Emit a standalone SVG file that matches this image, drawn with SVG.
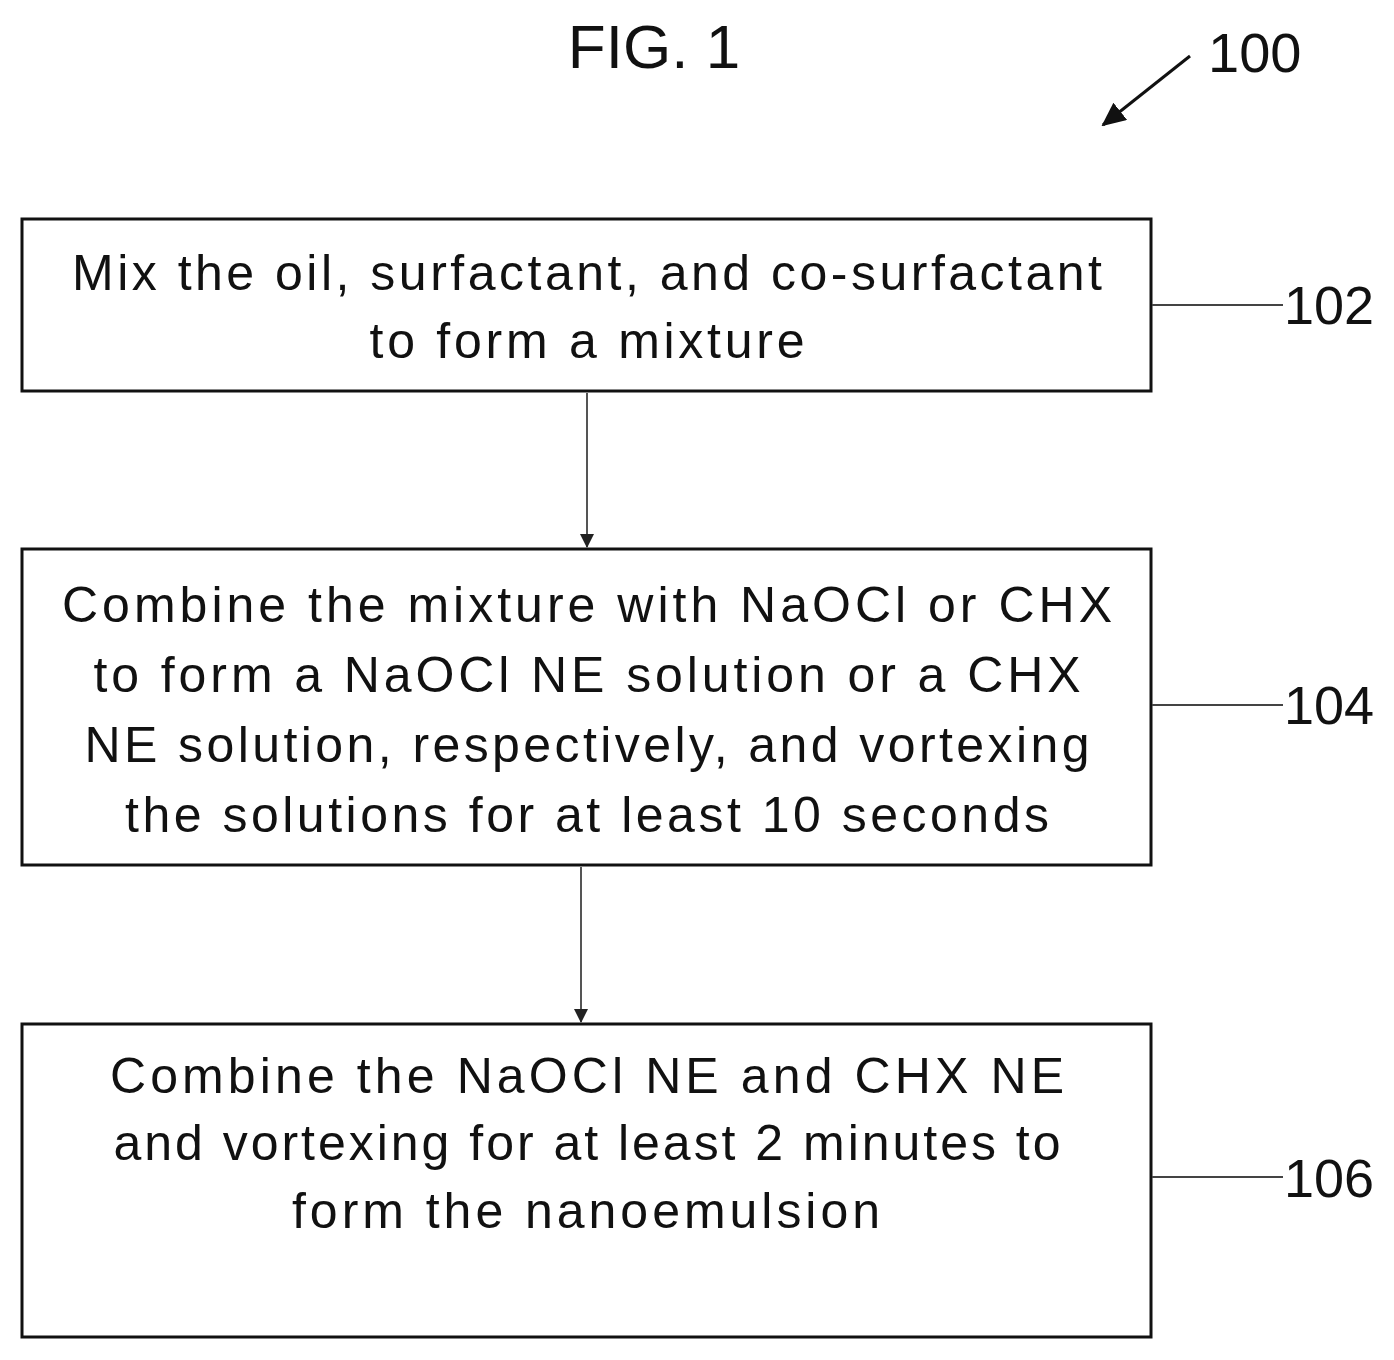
<svg xmlns="http://www.w3.org/2000/svg" width="1394" height="1360" viewBox="0 0 1394 1360">
<style>
.box{fill:#fff;stroke:#111;stroke-width:3}
.t{font-family:"Liberation Sans",Arial,sans-serif;font-size:50px;fill:#111;text-anchor:middle}
.lbl{font-family:"Liberation Sans",Arial,sans-serif;font-size:54px;fill:#111}
.ld{stroke:#444;stroke-width:2}
.c{stroke:#555;stroke-width:2;fill:none}
</style>
<defs>
<marker id="ah" markerWidth="14" markerHeight="14" refX="13" refY="7" orient="auto" markerUnits="userSpaceOnUse" viewBox="0 0 14 14">
<path d="M0,0 L14,7 L0,14 Z" fill="#222"/>
</marker>
<marker id="ah2" markerWidth="24" markerHeight="22" refX="22" refY="11" orient="auto" markerUnits="userSpaceOnUse" viewBox="0 0 24 22">
<path d="M0,0 L24,11 L0,22 Z" fill="#111"/>
</marker>
</defs>
<rect width="1394" height="1360" fill="#fff"/>
<text x="654" y="68" class="lbl" text-anchor="middle" style="font-size:62px">FIG. 1</text>
<text x="1208" y="72" class="lbl" style="font-size:56px">100</text>
<line x1="1190" y1="56" x2="1103" y2="125" stroke="#111" stroke-width="3" marker-end="url(#ah2)"/>
<g id="n102">
<rect class="box" x="22" y="219" width="1129" height="172"/>
<text class="t" x="587" y="290" textLength="1030" lengthAdjust="spacing">Mix the oil, surfactant, and co-surfactant</text>
<text class="t" x="587" y="358" textLength="435" lengthAdjust="spacing">to form a mixture</text>
<line class="ld" x1="1152" y1="305" x2="1283" y2="305"/>
<text class="lbl" x="1284" y="324">102</text>
</g>
<g id="n104">
<rect class="box" x="22" y="549" width="1129" height="316"/>
<text class="t" x="587" y="622" textLength="1050" lengthAdjust="spacing">Combine the mixture with NaOCl or CHX</text>
<text class="t" x="587" y="692" textLength="987" lengthAdjust="spacing">to form a NaOCl NE solution or a CHX</text>
<text class="t" x="587" y="762" textLength="1005" lengthAdjust="spacing">NE solution, respectively, and vortexing</text>
<text class="t" x="587" y="832" textLength="924" lengthAdjust="spacing">the solutions for at least 10 seconds</text>
<line class="ld" x1="1152" y1="705" x2="1283" y2="705"/>
<text class="lbl" x="1284" y="724">104</text>
</g>
<g id="n106">
<rect class="box" x="22" y="1024" width="1129" height="313"/>
<text class="t" x="587" y="1093" textLength="954" lengthAdjust="spacing">Combine the NaOCl NE and CHX NE</text>
<text class="t" x="587" y="1160" textLength="947" lengthAdjust="spacing">and vortexing for at least 2 minutes to</text>
<text class="t" x="586" y="1228" textLength="588" lengthAdjust="spacing">form the nanoemulsion</text>
<line class="ld" x1="1152" y1="1177" x2="1283" y2="1177"/>
<text class="lbl" x="1284" y="1197">106</text>
</g>
<g id="connectors">
<line class="c" x1="587" y1="393" x2="587" y2="547" marker-end="url(#ah)"/>
<line class="c" x1="581" y1="867" x2="581" y2="1022" marker-end="url(#ah)"/>
</g>
</svg>
